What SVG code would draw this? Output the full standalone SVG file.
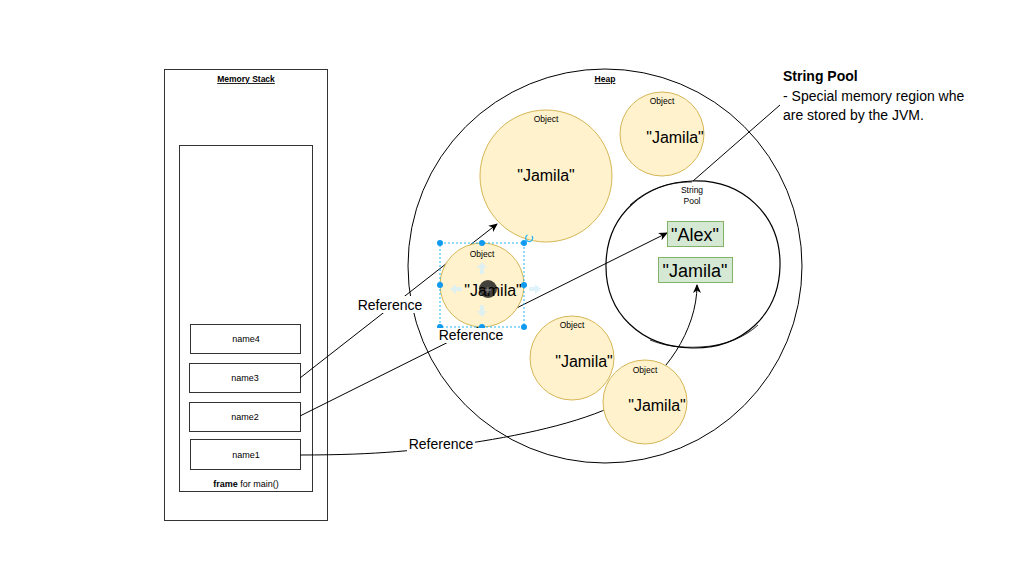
<svg xmlns="http://www.w3.org/2000/svg" width="1011" height="566" viewBox="0 0 1011 566">
<style>
text{font-family:"Liberation Sans",Arial,Helvetica,sans-serif;fill:#000}
.box{fill:#fff;stroke:#333;stroke-width:1}
.lbl{font-size:9px;text-anchor:middle}
.obj{fill:#fff2cc;stroke:#d6b656;stroke-width:1}
.ot{font-size:8.5px;text-anchor:middle}
.jt{font-size:16px;text-anchor:middle}
.str{fill:#d5e8d4;stroke:#82b366;stroke-width:1}
.st{font-size:18px;text-anchor:middle}
.edge{fill:none;stroke:#000;stroke-width:1}
.el{font-size:14px;text-anchor:middle}
.h{fill:#0f9af0}
</style>
<defs>
<marker id="arr" markerWidth="10" markerHeight="10" refX="8" refY="5" orient="auto" markerUnits="userSpaceOnUse">
<path d="M0,1 L9,5 L0,9 L2.5,5 Z" fill="#000"/>
</marker>
</defs>
<rect width="1011" height="566" fill="#fff"/>

<g id="memory-stack">
<rect class="box" x="164.5" y="69.5" width="163" height="451"/>
<text x="246" y="82" style="font-size:8.5px;font-weight:bold;text-anchor:middle;text-decoration:underline">Memory Stack</text>
</g>
<g id="frame">
<rect class="box" x="179.5" y="145.5" width="133" height="346"/>
<text x="246" y="487" class="lbl"><tspan font-weight="bold">frame</tspan> for main()</text>
</g>
<g id="name4"><rect class="box" x="190.5" y="324.5" width="110" height="29"/><text x="246" y="342" class="lbl">name4</text></g>
<g id="name3"><rect class="box" x="189.5" y="363.5" width="111" height="29"/><text x="245" y="381" class="lbl">name3</text></g>
<g id="name2"><rect class="box" x="189.5" y="402.5" width="111" height="29"/><text x="245" y="420" class="lbl">name2</text></g>
<g id="name1"><rect class="box" x="190.5" y="439.5" width="110" height="30"/><text x="246" y="458" class="lbl">name1</text></g>

<g id="heap">
<circle cx="605" cy="266" r="197" fill="none" stroke="#000" stroke-width="1"/>
<text x="605" y="82" style="font-size:8.5px;font-weight:bold;text-anchor:middle;text-decoration:underline">Heap</text>
</g>

<g id="string-pool">
<path d="M692,181 C742,179 781,215 780,266 C779,315 742,349 692,348 C641,347 605,313 606,264 C607,214 645,183 692,181 Z" fill="none" stroke="#000" stroke-width="1.2"/>
<path d="M630,205 C648,189 668,182 692,182 M650,340 C665,346 680,348 700,347 C725,346 745,337 758,325" fill="none" stroke="#000" stroke-width="0.8"/>
<text x="692" y="193" class="ot">String</text>
<text x="692" y="204" class="ot">Pool</text>
</g>

<g id="connectors">
<path class="edge" d="M300,378 L497,224" marker-end="url(#arr)"/>
<path class="edge" d="M300,416 L667,233" marker-end="url(#arr)"/>
<path class="edge" d="M300,455 C380,455 420,450 470,443 C530,434 590,420 625,400 C665,378 697,330 697,285" marker-end="url(#arr)"/>
<path class="edge" d="M780,105 L693,181"/>
</g>

<g id="obj-big">
<circle class="obj" cx="546" cy="176" r="66"/>
<text x="546" y="122" class="ot">Object</text>
<text x="546" y="181" class="jt">"Jamila"</text>
</g>
<g id="obj-topright">
<circle class="obj" cx="662" cy="134" r="42"/>
<text x="662" y="104" class="ot">Object</text>
<text x="675" y="143" class="jt">"Jamila"</text>
</g>
<g id="obj-middle">
<circle class="obj" cx="572" cy="358" r="42"/>
<text x="572" y="328" class="ot">Object</text>
<text x="584" y="367" class="jt">"Jamila"</text>
</g>
<g id="obj-bottom">
<circle class="obj" cx="645" cy="402" r="42"/>
<text x="645" y="373" class="ot">Object</text>
<text x="657" y="411" class="jt">"Jamila"</text>
</g>
<g id="obj-selected">
<circle class="obj" cx="482" cy="285" r="42"/>
<text x="482" y="257" class="ot">Object</text>
<g fill="#d8f0f9" opacity="0.8">
<path d="M482,262 l-5,6 h3 v6 h4 v-6 h3 z"/>
<path d="M482,317 l-5,-6 h3 v-6 h4 v6 h3 z"/>
<path d="M450,289 l6,-5 v3 h6 v4 h-6 v3 z"/>
<path d="M541,289 l-6,-5 v3 h-6 v4 h6 v3 z"/>
</g>
<circle cx="488" cy="289" r="9" fill="#222" opacity="0.85"/>
<text x="493" y="296" class="jt">"Jamila"</text>
<path d="M485,290 h6 M488,287 v6" stroke="#999" stroke-width="1"/>
</g>
<g id="selection">
<rect x="440" y="243" width="84" height="84" fill="none" stroke="#29b6f2" stroke-width="1" stroke-dasharray="2,2"/>
<circle class="h" cx="440" cy="243" r="3"/><circle class="h" cx="482" cy="243" r="3"/><circle class="h" cx="524" cy="243" r="3"/>
<circle class="h" cx="440" cy="285" r="3"/><circle class="h" cx="524" cy="285" r="3"/>
<circle class="h" cx="440" cy="327" r="3"/><circle class="h" cx="482" cy="327" r="3"/><circle class="h" cx="524" cy="327" r="3"/>
<path d="M527.5,235 A3.5,3.5 0 1 0 532,236" fill="none" stroke="#29b6f2" stroke-width="1.3"/>
</g>

<g id="str-alex"><rect class="str" x="667.5" y="221.5" width="56" height="25"/><text x="695" y="241" class="st">"Alex"</text></g>
<g id="str-jamila"><rect class="str" x="658.5" y="257.5" width="74" height="25"/><text x="695" y="277" class="st">"Jamila"</text></g>

<g id="edge-labels">
<rect x="356" y="296" width="70" height="17" fill="#fff"/>
<text x="390" y="310" class="el">Reference</text>
<rect x="437" y="328" width="70" height="15" fill="#fff"/>
<text x="471" y="340" class="el">Reference</text>
<rect x="407" y="436" width="68" height="16" fill="#fff"/>
<text x="441" y="449" class="el">Reference</text>
</g>

<g id="annotation">
<text x="783" y="81" style="font-size:14px;font-weight:bold">String Pool</text>
<text x="783" y="101" style="font-size:14px">- Special memory region whe</text>
<text x="783" y="120" style="font-size:14px">are stored by the JVM.</text>
</g>
</svg>
